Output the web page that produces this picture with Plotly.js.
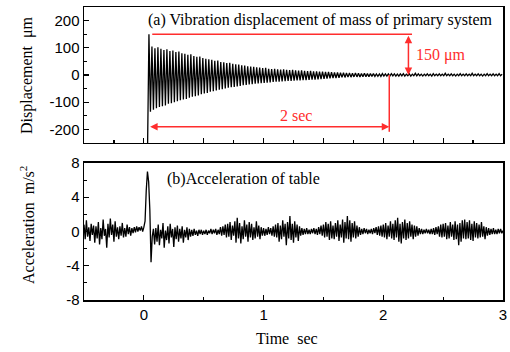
<!DOCTYPE html>
<html><head><meta charset="utf-8">
<script src="https://cdn.plot.ly/plotly-3.0.1.min.js"></script>
<style>html,body{margin:0;padding:0;background:#fff}#c{width:510px;height:352px}</style>
</head><body><div id="c"></div>
<script>
// ---- data ----
// (a) displacement of primary mass, um: successive extremes, first sample at dispStart, spacing dispStep (s)
const dispStart = 0.03;
const dispStep = 0.0125;
const displacement = [
 -300,
 150, -135,
 105, -128, 98, -122, 102, -118, 96, -115, 92, -112,
 95, -106, 88, -104, 90, -100, 84, -97, 86, -93,
 80, -90, 78, -88, 74, -84, 76, -80, 70, -78,
 67, -75, 68, -71, 62, -68, 60, -66, 58, -62,
 56, -60, 52, -57, 53, -54, 48, -52, 47, -50,
 44, -47, 45, -45, 41, -44, 39, -42, 38, -40,
 36, -38, 35, -37, 32, -35, 31, -34, 30, -32,
 28, -31, 27, -30, 25, -29, 26, -28, 23, -27,
 22, -26, 23, -25, 21, -25, 20, -24, 21, -23,
 19, -22, 18, -22, 19, -21, 17, -20, 16, -20,
 17, -19, 15, -19, 14, -18, 15, -17, 13, -17,
 13, -16, 12, -15, 12, -14, 11, -13, 11, -12,
 10, -11, 9, -11, 9, -10, 8, -9, 8, -9,
 7, -8, 7, -8, 6, -7, 7, -7, 6, -7,
 5, -6, 6, -6, 5, -6, 5, -5, 5, -5,
 4, -5, 4, -5, 5, -4, 4, -4,
 4, -4, 5, -3, 4, -4, 3, -4, 4, -3,
 5, -4, 3, -3, 4, -4, 3, -3, 6, -3,
 4, -3, 3, -4, 3, -3, 4, -3, 3, -4,
 5, -3, 3, -3, 4, -3, 3, -3, 6, -3,
 3, -3, 4, -3, 3, -4, 3, -3, 5, -3,
 3, -3, 4, -3, 3, -3, 6, -3, 3, -3,
 4, -3, 3, -4, 3, -3, 5, -3, 3, -3,
 4, -3, 3, -3, 5, -3, 3
];
// (b) acceleration of table, m/s^2: samples from accStart every accStep (s)
const accStart = -0.5;
const accStep = 0.01;
const acceleration = [
 0.8, -0.9, 1.3, -0.6, 0.5, -1.1, 0.9, -0.4, 0.7, -1.3,
 0.6, -0.8, 1.1, -1.5, 0.4, -0.9, 1.4, -0.5, 0.3, -1.9,
 0.9, -0.7, 1.5, -0.4, 0.8, -1.2, 1.2, -0.6, 0.5, -0.9,
 0.6, -0.5, 1.0, -0.7, 0.4, -0.6, 0.8, -0.3, 0.5, -0.5,
 0.4, -0.2, 0.5, -0.1, 0.6, 0.0, 0.5, 0.1, 0.6, 0.0,
 0.5, 1.2, 4.8, 7.0, 5.8, 2.5, -3.6, -0.6, 0.3, -1.5,
 0.4, -1.2, 0.8, -1.6, 0.2, -0.8, 1.0, -1.9, 0.1, -1.0,
 0.6, -1.4, 0.9, -0.7, 0.3, -1.8, 0.5, -0.9, 0.7, -1.2,
 0.3, -0.8, 0.6, -1.3, 0.2, -0.7, 0.5, -1.0, 0.3, -0.6,
 0.2, -0.5, 0.3, -0.4, 0.1, -0.5, 0.2, -0.3, 0.2, -0.4,
 0.1, -0.3, 0.2, -0.4, 0.1, -0.2, 0.3, -0.3, 0.2, -0.2,
 0.3, -0.4, 0.2, -0.3, 0.5, -0.5, 0.6, -0.4, 0.8, -0.7,
 0.9, -0.6, 1.1, -1.0, 0.7, -0.5, 1.2, -1.3, 1.6, -0.8,
 1.0, -1.4, 0.6, -0.9, 1.3, -0.6, 0.8, -1.2, 1.1, -0.7,
 0.9, -1.0, 0.5, -0.8, 1.2, -0.6, 0.7, -0.9, 0.5, -0.5,
 0.4, -0.5, 0.3, -0.4, 0.5, -0.3, 0.4, -0.5, 0.6, -0.6,
 0.8, -0.7, 1.0, -1.2, 0.7, -0.9, 1.3, -0.6, 0.9, -1.6,
 1.1, -0.8, 1.8, -1.0, 0.9, -1.3, 1.2, -0.7, 0.8, -1.1,
 0.6, -0.5, 0.4, -0.4, 0.3, -0.3, 0.4, -0.3, 0.2, -0.3,
 0.3, -0.2, 0.4, -0.3, 0.3, -0.4, 0.5, -0.3, 0.7, -0.5,
 0.8, -0.7, 1.1, -0.6, 0.9, -1.0, 1.2, -0.8, 0.7, -0.9,
 1.0, -0.6, 1.3, -1.1, 0.8, -0.7, 1.4, -1.3, 1.1, -0.8,
 1.8, -0.9, 1.3, -1.2, 1.0, -0.7, 1.2, -0.8, 0.7, -0.6,
 0.5, -0.4, 0.3, -0.3, 0.4, -0.2, 0.3, -0.3, 0.2, -0.2,
 0.3, -0.3, 0.4, -0.2, 0.5, -0.4, 0.6, -0.5, 0.7, -0.6,
 0.8, -0.7, 1.0, -0.9, 0.7, -0.6, 1.2, -0.8, 0.9, -1.0,
 1.3, -0.7, 1.6, -1.2, 0.9, -1.4, 1.1, -0.8, 1.4, -1.0,
 1.0, -0.8, 1.2, -0.6, 0.8, -0.9, 0.7, -0.6, 0.6, -0.5,
 0.4, -0.3, 0.3, -0.3, 0.2, -0.2, 0.3, -0.2, 0.2, -0.3,
 0.3, -0.3, 0.4, -0.4, 0.5, -0.3, 0.6, -0.6, 0.8, -0.7,
 0.9, -0.6, 1.0, -0.9, 0.7, -0.8, 1.1, -0.6, 0.8, -1.0,
 1.2, -0.9, 0.8, -1.6, 1.0, -1.2, 1.3, -0.8, 1.4, -0.9,
 1.1, -0.8, 1.3, -1.0, 0.9, -1.1, 1.2, -0.7, 1.0, -0.8,
 0.8, -0.7, 1.1, -0.6, 0.6, -0.9, 0.5, -0.5, 0.4, -0.4,
 0.3, -0.3, 0.4, -0.3, 0.2, -0.3, 0.3, -0.2, 0.3, -0.2, 0.1
];
const dispTickVals = [-200, -100, 0, 100, 200];
const accTickVals = [-8, -4, 0, 4, 8];
const timeTickVals = [0, 1, 2, 3];
// red marks
const peakAmp = 150;           // um
const peakLineStart = 0.07, peakLineEnd = 2.24, ampArrowX = 2.21;
const settleStart = 0.04, settleEnd = 2.05, settleArrowY = -190, settleLineBottom = -209;

// ---- figure ----
const red = 'rgb(255,45,45)';
const tickFont = {family: 'Liberation Sans, Arial, sans-serif', size: 15, color: '#000'};
const serif = 'Liberation Serif, Times New Roman, serif';

const traces = [
  {type: 'scatter', mode: 'lines', x0: dispStart, dx: dispStep, y: displacement,
   xaxis: 'x', yaxis: 'y', line: {color: '#000', width: 1.3}, hoverinfo: 'skip'},
  {type: 'scatter', mode: 'lines', x0: accStart, dx: accStep, y: acceleration,
   xaxis: 'x2', yaxis: 'y2', line: {color: '#000', width: 1.3}, hoverinfo: 'skip'}
];

const axBase = {showline: true, mirror: true, linecolor: '#000', linewidth: 1.5,
  showgrid: false, zeroline: false, ticks: 'inside', ticklen: 5, tickwidth: 1.2,
  tickcolor: '#000', tickfont: tickFont};

const layout = {
  width: 510, height: 352,
  margin: {l: 84, r: 7, t: 7, b: 52},
  paper_bgcolor: '#fff', plot_bgcolor: '#fff',
  showlegend: false,
  xaxis: Object.assign({}, axBase, {domain: [0, 1], anchor: 'y', range: [-0.5, 3],
    tick0: 0, dtick: 0.5, showticklabels: false,
    minor: {dtick: 0.25, ticklen: 3, ticks: 'inside', tickcolor: '#000', tickwidth: 1.2}}),
  yaxis: Object.assign({}, axBase, {domain: [0.536, 1], anchor: 'x', range: [-250, 250],
    tickvals: dispTickVals, ticktext: dispTickVals.map(String),
    minor: {tick0: 0, dtick: 50, ticklen: 3, ticks: 'inside', tickcolor: '#000', tickwidth: 1.2}}),
  xaxis2: Object.assign({}, axBase, {domain: [0, 1], anchor: 'y2', range: [-0.5, 3],
    tickvals: timeTickVals, ticktext: timeTickVals.map(String),
    minor: {tick0: 0, dtick: 0.5, ticklen: 3, ticks: 'inside', tickcolor: '#000', tickwidth: 1.2}}),
  yaxis2: Object.assign({}, axBase, {domain: [0, 0.4676], anchor: 'x2', range: [-8, 8],
    tickvals: accTickVals, ticktext: accTickVals.map(String),
    minor: {tick0: 0, dtick: 2, ticklen: 3, ticks: 'inside', tickcolor: '#000', tickwidth: 1.2}}),
  shapes: [
    {type: 'line', xref: 'x', yref: 'y', x0: peakLineStart, x1: peakLineEnd, y0: peakAmp, y1: peakAmp,
     line: {color: red, width: 1.5}},
    {type: 'line', xref: 'x', yref: 'y', x0: settleEnd, x1: settleEnd, y0: 0, y1: settleLineBottom,
     line: {color: red, width: 1.5}}
  ],
  annotations: [
    {xref: 'x', yref: 'y', axref: 'x', ayref: 'y', x: ampArrowX, y: 0, ax: ampArrowX, ay: peakAmp,
     text: '', showarrow: true, arrowside: 'end+start', arrowhead: 2, arrowsize: 1, arrowwidth: 1.5, arrowcolor: red, standoff: 0, startstandoff: 0},
    {xref: 'x', yref: 'y', axref: 'x', ayref: 'y', x: settleEnd, y: settleArrowY, ax: settleStart, ay: settleArrowY,
     text: '', showarrow: true, arrowside: 'end+start', arrowhead: 2, arrowsize: 1, arrowwidth: 1.5, arrowcolor: red, standoff: 0, startstandoff: 0},
    {xref: 'x', yref: 'y', x: 2.26, y: 73, xanchor: 'left', yanchor: 'middle', showarrow: false,
     text: '150 \u03bcm', font: {family: serif, size: 16, color: red}},
    {xref: 'x', yref: 'y', x: 1.275, y: -150, xanchor: 'center', yanchor: 'middle', showarrow: false,
     text: '2 sec', font: {family: serif, size: 16, color: red}},
    {xref: 'x', yref: 'y', x: 0.017, y: 201, xanchor: 'left', yanchor: 'middle', showarrow: false,
     text: '(a) Vibration displacement of mass of primary system', font: {family: serif, size: 16, color: '#000'}},
    {xref: 'x2', yref: 'y2', x: 0.175, y: 6.1, xanchor: 'left', yanchor: 'middle', showarrow: false,
     text: '(b)Acceleration of table', font: {family: serif, size: 16, color: '#000'}},
    {xref: 'paper', yref: 'paper', x: -0.136, y: 0.768, xanchor: 'center', yanchor: 'middle', showarrow: false,
     textangle: -90, text: 'Displacement\u00a0\u00a0\u03bcm', font: {family: serif, size: 16, color: '#000'}},
    {xref: 'paper', yref: 'paper', x: -0.136, y: 0.256, xanchor: 'center', yanchor: 'middle', showarrow: false,
     textangle: -90, text: 'Acceleration\u00a0\u00a0m/s<sup>2</sup>', font: {family: serif, size: 16, color: '#000'}},
    {xref: 'paper', yref: 'paper', x: 0.4845, y: -0.1297, xanchor: 'center', yanchor: 'middle', showarrow: false,
     text: 'Time\u00a0\u00a0sec', font: {family: serif, size: 16, color: '#000'}}
  ]
};

Plotly.newPlot('c', traces, layout, {staticPlot: true, displayModeBar: false});
</script>
</body></html>
